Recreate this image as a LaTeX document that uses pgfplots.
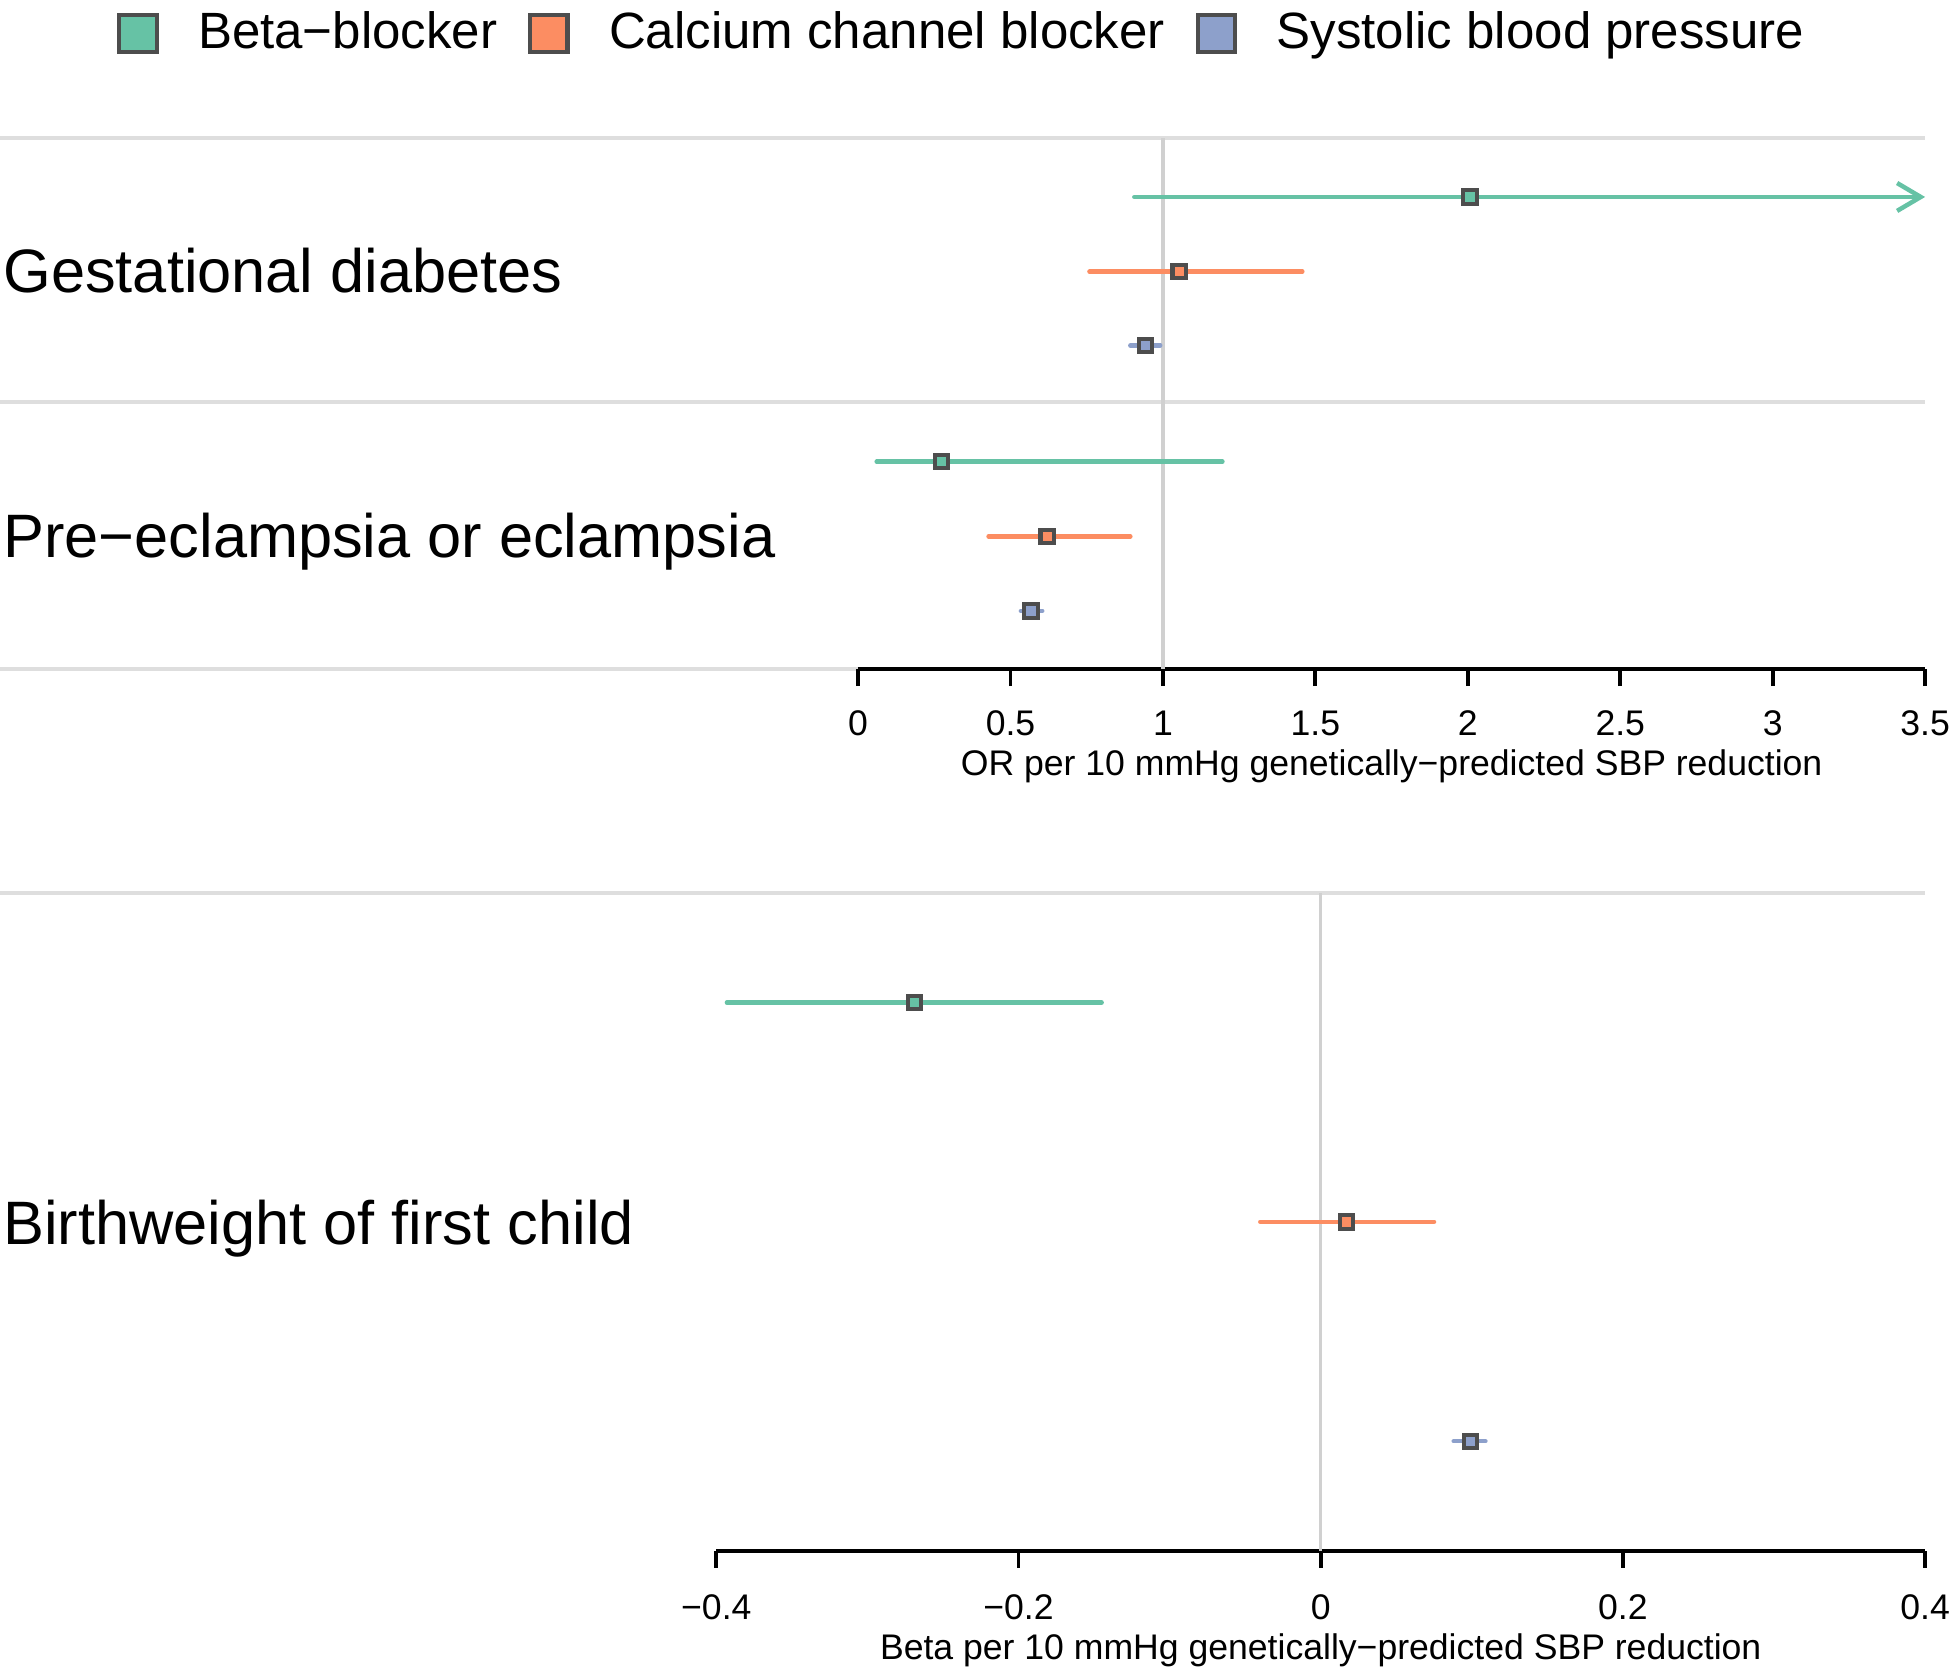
\documentclass[border=0pt]{standalone}
\usepackage{fontspec}
\setmainfont{Liberation Sans}
\usepackage{pgfplots}
\usepackage{pgfplotstable}
\pgfplotsset{compat=1.18}
\usetikzlibrary{arrows.meta}

\definecolor{bbcol}{HTML}{66C2A5}
\definecolor{ccbcol}{HTML}{FC8D62}
\definecolor{sbpcol}{HTML}{8DA0CB}
\definecolor{markdraw}{HTML}{4D4D4D}
\definecolor{sepgray}{HTML}{DEDEDE}
\definecolor{refgray}{HTML}{D0D0D0}

% top panel: OR (x, lower, upper); y = row position
\pgfplotstableread{
x     y    lo    hi
2.007 6.33 2.007 2.007
0.273 2.78 0.061 1.195
}\topbb
\pgfplotstableread{
x     y    lo    hi
1.053 5.33 0.759 1.457
0.620 1.78 0.428 0.893
}\topccb
\pgfplotstableread{
x     y    lo    hi
0.942 4.34 0.893 0.991
0.567 0.78 0.534 0.604
}\topsbp
% bottom panel: beta
\pgfplotstableread{
x      y   lo     hi
-0.269 2.5 -0.393 -0.145
}\botbb
\pgfplotstableread{
x     y   lo     hi
0.017 1.5 -0.040 0.075
}\botccb
\pgfplotstableread{
x     y   lo    hi
0.099 0.5 0.088 0.109
}\botsbp

\pgfplotsset{
  ci/.style={only marks, mark=square*, mark size=1.55pt,
    mark options={fill=#1, draw=markdraw, line width=0.95pt},
    error bars/.cd, x dir=both, x explicit, error mark=none,
    error bar style={#1, line width=1.05pt, line cap=round}},
  table/ciopt/.style={x=x, y=y,
    x error plus expr=\thisrow{hi}-\thisrow{x},
    x error minus expr=\thisrow{x}-\thisrow{lo}},
  forest/.style={
    scale only axis, clip=false,
    axis x line*=bottom, axis y line=none,
    axis line style={line width=0.9pt},
    xtick align=outside, major tick length=4pt,
    tick style={black, line width=0.9pt},
    xticklabel style={font=\fontsize{8.3}{10}\selectfont, anchor=center},
    xlabel style={font=\fontsize{8.3}{10}\selectfont, at={(axis description cs:0.5,0)}, anchor=center},
  },
}

\begin{document}
\begin{tikzpicture}
\path[use as bounding box] (0,0) rectangle (454.72pt,-388.6pt);
% group separators
\draw[sepgray, line width=0.85pt] (0,-32.19pt) -- (448.92pt,-32.19pt);
\draw[sepgray, line width=0.85pt] (0,-93.67pt) -- (448.92pt,-93.67pt);
\draw[sepgray, line width=0.85pt] (0,-156.02pt) -- (448.92pt,-156.02pt);
\draw[sepgray, line width=0.85pt] (0,-208.22pt) -- (448.92pt,-208.22pt);

% row labels
\begin{scope}[font=\fontsize{14.3}{17}\selectfont]
\node[anchor=base west, inner sep=0pt] at (0.6pt,-68.3pt) {Gestational diabetes};
\node[anchor=base west, inner sep=0pt] at (0.6pt,-130.1pt) {Pre−eclampsia or eclampsia};
\node[anchor=base west, inner sep=0pt] at (0.6pt,-290.2pt) {Birthweight of first child};
\end{scope}

\begin{axis}[forest,
    at={(200.1pt,-156.02pt)}, anchor=south west,
    width=248.82pt, height=123.83pt,
    xmin=0, xmax=3.5, ymin=0, ymax=7.12,
    xtick={0,0.5,1,1.5,2,2.5,3,3.5},
    xticklabels={0,0.5,1,1.5,2,2.5,3,3.5},
    xticklabel style={yshift=-8.6pt},
    xlabel={OR per 10 mmHg genetically−predicted SBP reduction},
    xlabel style={yshift=-22.6pt},
    legend columns=3,
    legend cell align=left,
    legend style={draw=none, fill=none, at={(axis description cs:0.1002,1.197)}, anchor=center,
      font=\fontsize{11.9}{14}\selectfont,
      /tikz/every odd column/.append style={column sep=7.2pt},
      /tikz/every even column/.append style={column sep=5.2pt}},
    legend image code/.code={\draw[#1, draw=markdraw, line width=0.95pt] (0pt,-4.35pt) rectangle (8.7pt,4.35pt);},
  ]
\addlegendimage{fill=bbcol}
\addlegendentry{Beta−blocker}
\addlegendimage{fill=ccbcol}
\addlegendentry{Calcium channel blocker}
\addlegendimage{fill=sbpcol}
\addlegendentry{Systolic blood pressure}
% reference line at OR = 1
\addplot[forget plot, refgray, line width=0.8pt] coordinates {(1,0) (1,7.12)};
% beta-blocker CI beyond the axis: arrow
\addplot[forget plot, bbcol, line width=1.05pt, line cap=round,
  -{Straight Barb[length=5.5pt, width=6.5pt, line width=1.05pt]}]
  coordinates {(0.906,6.33) (3.5,6.33)};
\addplot[forget plot, ci=bbcol] table[ciopt] {\topbb};
\addplot[forget plot, ci=ccbcol] table[ciopt] {\topccb};
\addplot[forget plot, ci=sbpcol] table[ciopt] {\topsbp};
\end{axis}

\begin{axis}[forest,
    at={(167.04pt,-361.63pt)}, anchor=south west,
    width=281.88pt, height=153.41pt,
    xmin=-0.4, xmax=0.4, ymin=0, ymax=3,
    xtick={-0.4,-0.2,0,0.2,0.4},
    xticklabels={−0.4,−0.2,0,0.2,0.4},
    xticklabel style={yshift=-9.1pt},
    xlabel={Beta per 10 mmHg genetically−predicted SBP reduction},
    xlabel style={yshift=-23.2pt},
  ]
\addplot[refgray, line width=0.8pt] coordinates {(0,0) (0,3)};
\addplot[ci=bbcol] table[ciopt] {\botbb};
\addplot[ci=ccbcol] table[ciopt] {\botccb};
\addplot[ci=sbpcol] table[ciopt] {\botsbp};
\end{axis}
\end{tikzpicture}
\end{document}
